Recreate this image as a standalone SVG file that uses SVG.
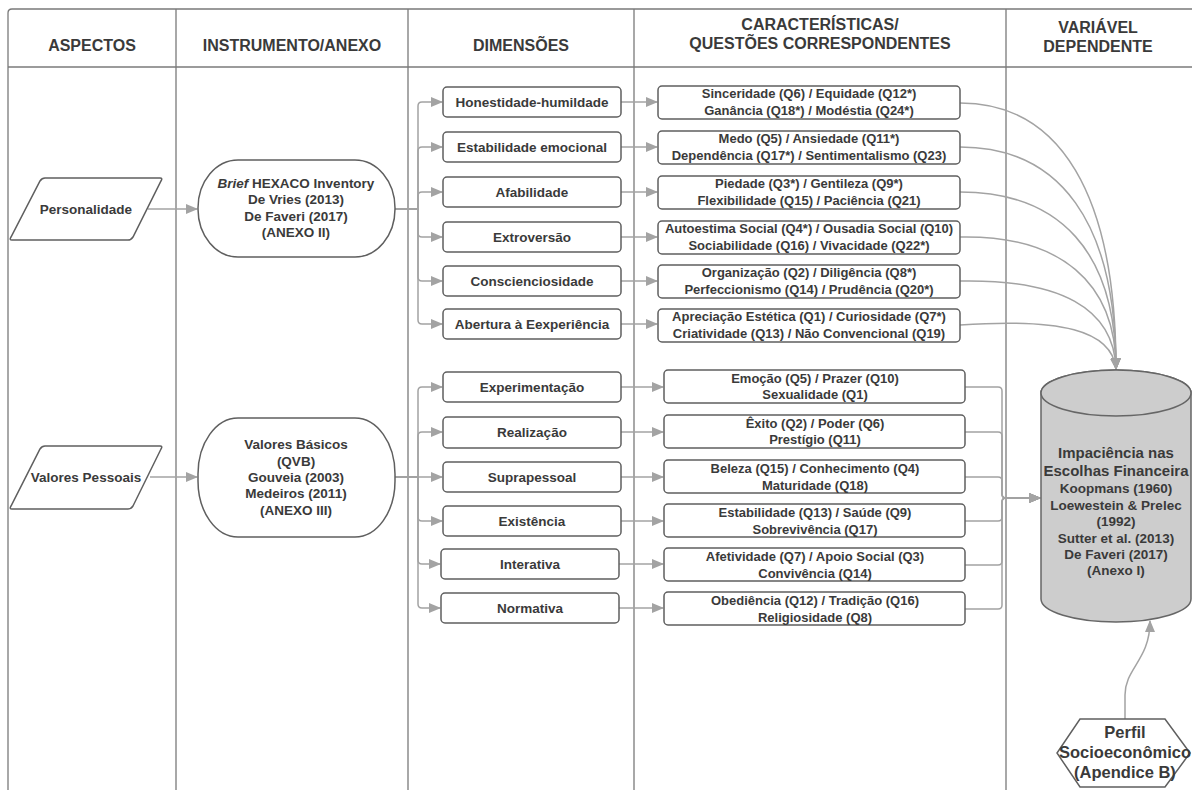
<svg xmlns="http://www.w3.org/2000/svg" width="1192" height="790" viewBox="0 0 1192 790">
<defs>
<style>
.col{stroke:#7a7a7a;stroke-width:1.3;fill:none}
.box{fill:#fff;stroke:#5f5f5f;stroke-width:1.5}
.con{stroke:#a3a3a3;stroke-width:1.5;fill:none}
.t{font-family:"Liberation Sans",Arial,sans-serif;font-weight:bold;fill:#3a3a3a;text-anchor:middle}
.h{font-size:16px}
.n{font-size:13.5px}
.c{font-size:13px}
.big{font-size:15px}
.hx{font-size:16.5px}
</style>
<marker id="ah" markerWidth="12" markerHeight="10" refX="11" refY="5" orient="auto" markerUnits="userSpaceOnUse"><path d="M0,0 L12,5 L0,10 z" fill="#a3a3a3"/></marker>
</defs>
<rect width="1192" height="790" fill="#fff"/>
<g id="frame">
<path class="col" d="M8,790 V13 Q8,9 12,9 H1192"/>
<path class="col" d="M8,67 H1192"/>
<path class="col" d="M176,9 V790 M408,9 V790 M634,9 V790 M1006,9 V790"/>
<text class="t h" x="92" y="51">ASPECTOS</text>
<text class="t h" x="292" y="51">INSTRUMENTO/ANEXO</text>
<text class="t h" x="521" y="51">DIMENSÕES</text>
<text class="t h" x="820" y="30">CARACTERÍSTICAS/</text>
<text class="t h" x="820" y="49">QUESTÕES CORRESPONDENTES</text>
<text class="t h" x="1098" y="33">VARIÁVEL</text>
<text class="t h" x="1098" y="52">DEPENDENTE</text>
</g>
<g id="connectors">
<path class="con" d="M148,209 H197" marker-end="url(#ah)"/>
<path class="con" d="M150,477 H197" marker-end="url(#ah)"/>
<path class="con" d="M395,209 H418 V106 Q418,102 422,102 H442" marker-end="url(#ah)"/>
<path class="con" d="M395,209 H418 V151 Q418,147 422,147 H442" marker-end="url(#ah)"/>
<path class="con" d="M395,209 H418 V196 Q418,192 422,192 H442" marker-end="url(#ah)"/>
<path class="con" d="M395,209 H418 V233 Q418,237 422,237 H442" marker-end="url(#ah)"/>
<path class="con" d="M395,209 H418 V277 Q418,281 422,281 H442" marker-end="url(#ah)"/>
<path class="con" d="M395,209 H418 V320 Q418,324 422,324 H442" marker-end="url(#ah)"/>
<path class="con" d="M395,477 H418 V391 Q418,387 422,387 H442" marker-end="url(#ah)"/>
<path class="con" d="M395,477 H418 V436 Q418,432 422,432 H442" marker-end="url(#ah)"/>
<path class="con" d="M395,477 H442" marker-end="url(#ah)"/>
<path class="con" d="M395,477 H418 V517 Q418,521 422,521 H442" marker-end="url(#ah)"/>
<path class="con" d="M395,477 H418 V560 Q418,564 422,564 H440" marker-end="url(#ah)"/>
<path class="con" d="M395,477 H418 V604 Q418,608 422,608 H440" marker-end="url(#ah)"/>
<path class="con" d="M621,102 H657" marker-end="url(#ah)"/>
<path class="con" d="M621,147 H657" marker-end="url(#ah)"/>
<path class="con" d="M621,192 H657" marker-end="url(#ah)"/>
<path class="con" d="M621,237 H657" marker-end="url(#ah)"/>
<path class="con" d="M621,281 H657" marker-end="url(#ah)"/>
<path class="con" d="M621,324 H657" marker-end="url(#ah)"/>
<path class="con" d="M621,387 H663" marker-end="url(#ah)"/>
<path class="con" d="M621,432 H663" marker-end="url(#ah)"/>
<path class="con" d="M621,477 H663" marker-end="url(#ah)"/>
<path class="con" d="M621,521 H663" marker-end="url(#ah)"/>
<path class="con" d="M619,564 H663" marker-end="url(#ah)"/>
<path class="con" d="M619,608 H663" marker-end="url(#ah)"/>
<path class="con" d="M960,103 C1060,103 1116,194 1116,369" marker-end="url(#ah)"/>
<path class="con" d="M960,147 C1060,147 1116,222 1116,369" marker-end="url(#ah)"/>
<path class="con" d="M960,192 C1060,192 1116,252 1116,369" marker-end="url(#ah)"/>
<path class="con" d="M960,237 C1060,235 1116,282 1116,369" marker-end="url(#ah)"/>
<path class="con" d="M960,281 C1060,279 1114,308 1116,369" marker-end="url(#ah)"/>
<path class="con" d="M960,325 C1060,318 1112,330 1116,369" marker-end="url(#ah)"/>
<path class="con" d="M965,387 H998 Q1002,387 1002,391 V494 Q1002,498 1006,498 H1040" marker-end="url(#ah)"/>
<path class="con" d="M965,432 H998 Q1002,432 1002,436 V494 Q1002,498 1006,498 H1040" marker-end="url(#ah)"/>
<path class="con" d="M965,477 H998 Q1002,477 1002,481 V494 Q1002,498 1006,498 H1040" marker-end="url(#ah)"/>
<path class="con" d="M965,521 H998 Q1002,521 1002,517 V502 Q1002,498 1006,498 H1040" marker-end="url(#ah)"/>
<path class="con" d="M965,565 H998 Q1002,565 1002,561 V502 Q1002,498 1006,498 H1040" marker-end="url(#ah)"/>
<path class="con" d="M965,609 H998 Q1002,609 1002,605 V502 Q1002,498 1006,498 H1040" marker-end="url(#ah)"/>
<path class="con" d="M1125,719 V695 C1125,668 1150,660 1150,621" marker-end="url(#ah)"/>
</g>
<g id="personalidade">
<path class="box" d="M45,178 H160 Q163,178 161,181 L133,237 Q131,240 128,240 H12 Q9,240 11,237 L40,181 Q42,178 45,178 Z"/>
<text class="t n" x="86" y="214">Personalidade</text>
</g>
<g id="valores-pessoais">
<path class="box" d="M45,446 H160 Q163,446 161,449 L133,506 Q131,509 128,509 H12 Q9,509 11,506 L40,449 Q42,446 45,446 Z"/>
<text class="t n" x="86" y="482">Valores Pessoais</text>
</g>
<g id="hexaco">
<rect class="box" x="198" y="160" width="197" height="97" rx="40" ry="48"/>
<text class="t n" x="296" y="188"><tspan font-style="italic">Brief</tspan> HEXACO Inventory</text>
<text class="t n" x="296" y="204">De Vries (2013)</text>
<text class="t n" x="296" y="221">De Faveri (2017)</text>
<text class="t n" x="296" y="237">(ANEXO II)</text>
</g>
<g id="qvb">
<rect class="box" x="198" y="418" width="197" height="119" rx="40" ry="56"/>
<text class="t n" x="296" y="449">Valores Básicos</text>
<text class="t n" x="296" y="466">(QVB)</text>
<text class="t n" x="296" y="482">Gouveia (2003)</text>
<text class="t n" x="296" y="498">Medeiros (2011)</text>
<text class="t n" x="296" y="515">(ANEXO III)</text>
</g>
<g id="dim-honestidade"><rect class="box" x="443" y="87" width="178" height="30" rx="4"/><text class="t n" x="532" y="107">Honestidade-humildade</text></g>
<g id="dim-estabilidade"><rect class="box" x="443" y="132" width="178" height="30" rx="4"/><text class="t n" x="532" y="152">Estabilidade emocional</text></g>
<g id="dim-afabilidade"><rect class="box" x="443" y="177" width="178" height="30" rx="4"/><text class="t n" x="532" y="197">Afabilidade</text></g>
<g id="dim-extroversao"><rect class="box" x="443" y="222" width="178" height="30" rx="4"/><text class="t n" x="532" y="242">Extroversão</text></g>
<g id="dim-conscienciosidade"><rect class="box" x="443" y="266" width="178" height="30" rx="4"/><text class="t n" x="532" y="286">Conscienciosidade</text></g>
<g id="dim-abertura"><rect class="box" x="443" y="309" width="178" height="30" rx="4"/><text class="t n" x="532" y="329">Abertura à Eexperiência</text></g>
<g id="dim-experimentacao"><rect class="box" x="443" y="372" width="178" height="30" rx="4"/><text class="t n" x="532" y="392">Experimentação</text></g>
<g id="dim-realizacao"><rect class="box" x="443" y="417" width="178" height="31" rx="4"/><text class="t n" x="532" y="437">Realização</text></g>
<g id="dim-suprapessoal"><rect class="box" x="443" y="462" width="178" height="30" rx="4"/><text class="t n" x="532" y="482">Suprapessoal</text></g>
<g id="dim-existencia"><rect class="box" x="443" y="506" width="178" height="30" rx="4"/><text class="t n" x="532" y="526">Existência</text></g>
<g id="dim-interativa"><rect class="box" x="441" y="549" width="178" height="30" rx="4"/><text class="t n" x="530" y="569">Interativa</text></g>
<g id="dim-normativa"><rect class="box" x="441" y="593" width="178" height="30" rx="4"/><text class="t n" x="530" y="613">Normativa</text></g>
<g id="q-honestidade"><rect class="box" x="658" y="86" width="302" height="33" rx="4"/><text class="t c" x="809" y="98">Sinceridade (Q6) / Equidade (Q12*)</text><text class="t c" x="809" y="115">Ganância (Q18*) / Modéstia (Q24*)</text></g>
<g id="q-estabilidade"><rect class="box" x="658" y="131" width="302" height="33" rx="4"/><text class="t c" x="809" y="143">Medo (Q5) / Ansiedade (Q11*)</text><text class="t c" x="809" y="160">Dependência (Q17*) / Sentimentalismo (Q23)</text></g>
<g id="q-afabilidade"><rect class="box" x="658" y="176" width="302" height="33" rx="4"/><text class="t c" x="809" y="188">Piedade (Q3*) / Gentileza (Q9*)</text><text class="t c" x="809" y="205">Flexibilidade (Q15) / Paciência (Q21)</text></g>
<g id="q-extroversao"><rect class="box" x="658" y="221" width="302" height="33" rx="4"/><text class="t c" x="809" y="233">Autoestima Social (Q4*) / Ousadia Social (Q10)</text><text class="t c" x="809" y="250">Sociabilidade (Q16) / Vivacidade (Q22*)</text></g>
<g id="q-conscienciosidade"><rect class="box" x="658" y="265" width="302" height="33" rx="4"/><text class="t c" x="809" y="277">Organização (Q2) / Diligência (Q8*)</text><text class="t c" x="809" y="294">Perfeccionismo (Q14) / Prudência (Q20*)</text></g>
<g id="q-abertura"><rect class="box" x="658" y="309" width="302" height="33" rx="4"/><text class="t c" x="809" y="321">Apreciação Estética (Q1) / Curiosidade (Q7*)</text><text class="t c" x="809" y="338">Criatividade (Q13) / Não Convencional (Q19)</text></g>
<g id="q-experimentacao"><rect class="box" x="664" y="370" width="301" height="33" rx="4"/><text class="t c" x="815" y="383">Emoção (Q5) / Prazer (Q10)</text><text class="t c" x="815" y="399">Sexualidade (Q1)</text></g>
<g id="q-realizacao"><rect class="box" x="664" y="415" width="301" height="33" rx="4"/><text class="t c" x="815" y="428">Êxito (Q2) / Poder (Q6)</text><text class="t c" x="815" y="444">Prestígio (Q11)</text></g>
<g id="q-suprapessoal"><rect class="box" x="664" y="460" width="301" height="33" rx="4"/><text class="t c" x="815" y="473">Beleza (Q15) / Conhecimento (Q4)</text><text class="t c" x="815" y="490">Maturidade (Q18)</text></g>
<g id="q-existencia"><rect class="box" x="664" y="504" width="301" height="33" rx="4"/><text class="t c" x="815" y="517">Estabilidade (Q13) / Saúde (Q9)</text><text class="t c" x="815" y="534">Sobrevivência (Q17)</text></g>
<g id="q-interativa"><rect class="box" x="664" y="548" width="301" height="33" rx="4"/><text class="t c" x="815" y="561">Afetividade (Q7) / Apoio Social (Q3)</text><text class="t c" x="815" y="578">Convivência (Q14)</text></g>
<g id="q-normativa"><rect class="box" x="664" y="592" width="301" height="33" rx="4"/><text class="t c" x="815" y="605">Obediência (Q12) / Tradição (Q16)</text><text class="t c" x="815" y="622">Religiosidade (Q8)</text></g>
<g id="impaciencia">
<path d="M1041,393 A75,23 0 0 1 1191,393 V599 A75,23 0 0 1 1041,599 Z" fill="#cdcdcd" stroke="#666" stroke-width="1.5"/>
<ellipse cx="1116" cy="393" rx="75" ry="23" fill="#cdcdcd" stroke="#666" stroke-width="1.5"/>
<text class="t big" x="1116" y="458">Impaciência nas</text>
<text class="t big" x="1116" y="476">Escolhas Financeira</text>
<text class="t n" x="1116" y="493">Koopmans (1960)</text>
<text class="t n" x="1116" y="510">Loewestein &amp; Prelec</text>
<text class="t n" x="1116" y="526">(1992)</text>
<text class="t n" x="1116" y="543">Sutter et al. (2013)</text>
<text class="t n" x="1116" y="559">De Faveri (2017)</text>
<text class="t n" x="1116" y="575">(Anexo I)</text>
</g>
<g id="perfil">
<path class="box" d="M1080,719 H1165 L1190,753 L1165,787 H1080 L1057,753 Z"/>
<text class="t hx" x="1125" y="738">Perfil</text>
<text class="t hx" x="1125" y="758">Socioeconômico</text>
<text class="t hx" x="1125" y="778">(Apendice B)</text>
</g>
</svg>
